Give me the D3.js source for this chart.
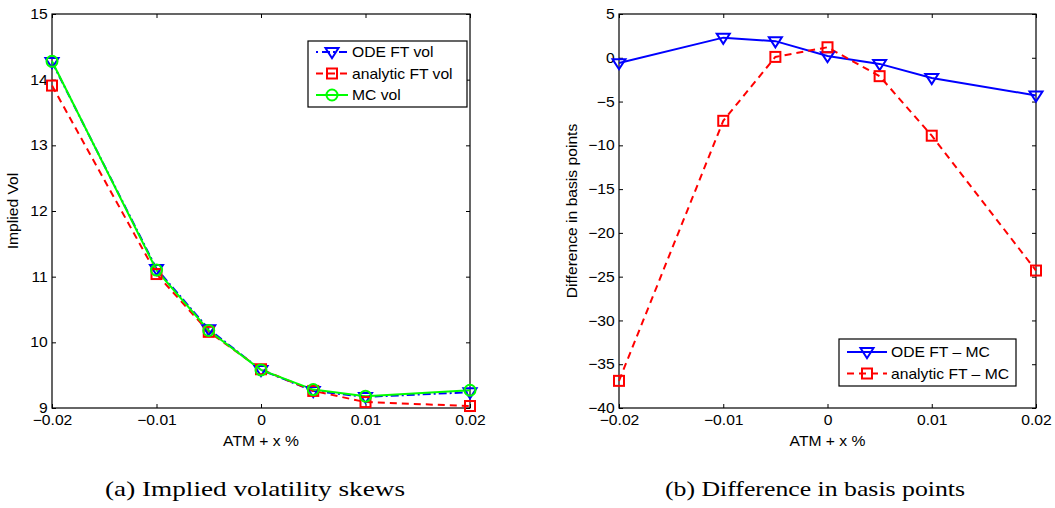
<!DOCTYPE html>
<html><head><meta charset="utf-8">
<script src="https://cdn.jsdelivr.net/npm/d3@7"></script>
<style>body{margin:0;background:#fff}svg{display:block}</style>
</head><body>
<svg id="c" width="1055" height="508"></svg>
<script>
const xVals = [-0.02, -0.01, -0.005, 0, 0.005, 0.01, 0.02];
const odeVol = [14.27, 11.12, 10.20, 9.58, 9.26, 9.17, 9.24];
const analyticVol = [13.91, 11.04, 10.16, 9.59, 9.26, 9.09, 9.03];
const mcVol = [14.28, 11.10, 10.18, 9.58, 9.28, 9.18, 9.27];
const odeDiff = [-0.6, 2.3, 1.9, 0.2, -0.7, -2.3, -4.3];
const analyticDiff = [-36.9, -7.2, 0.1, 1.2, -2.1, -8.9, -24.3];
const xTicks = [-0.02, -0.01, 0, 0.01, 0.02];
const yTicksA = [9, 10, 11, 12, 13, 14, 15];
const yTicksB = [-40, -35, -30, -25, -20, -15, -10, -5, 0, 5];
const legendA = ["ODE FT vol", "analytic FT vol", "MC vol"];
const legendB = ["ODE FT \u2013 MC", "analytic FT \u2013 MC"];
const captions = ["(a) Implied volatility skews", "(b) Difference in basis points"];

const SANS = "Liberation Sans, Arial, sans-serif";
const FS = 14.5, SX = 1.08;
const svg = d3.select("#c");
const fmt = v => (v < 0 ? "\u2212" : "") + String(Math.abs(v));

function htext(g, x, y, str, anchor) {
  return g.append("text").attr("transform", `translate(${x},${y}) scale(${SX},1)`)
    .attr("text-anchor", anchor || "start").style("font-family", SANS)
    .style("font-size", FS + "px").attr("fill", "#000").text(str);
}

function marker(g, type, color, x, y) {
  if (type === "tri") {
    const s = 6.5;
    g.append("path").attr("d", `M${x-s},${y-s*0.6}L${x+s},${y-s*0.6}L${x},${y+s*0.95}Z`)
      .attr("fill", "none").attr("stroke", color).attr("stroke-width", 2);
  } else if (type === "sq") {
    g.append("rect").attr("x", x-5).attr("y", y-5).attr("width", 10).attr("height", 10)
      .attr("fill", "none").attr("stroke", color).attr("stroke-width", 2);
  } else {
    g.append("circle").attr("cx", x).attr("cy", y).attr("r", 5.5)
      .attr("fill", "none").attr("stroke", color).attr("stroke-width", 2);
  }
}

function panel(cfg) {
  const {left, right, top, bottom, yDomain, yTicks, series, ylabel, ylabelX, legend, caption, capX} = cfg;
  const x = d3.scaleLinear().domain([-0.02, 0.02]).range([left, right]);
  const y = d3.scaleLinear().domain(yDomain).range([bottom, top]);
  const g = svg.append("g");
  const ax = g.append("g").attr("transform", `translate(0,${bottom})`)
    .call(d3.axisBottom(x).tickValues(xTicks).tickSize(-4).tickPadding(7).tickFormat(fmt));
  const axT = g.append("g").attr("transform", `translate(0,${top})`)
    .call(d3.axisTop(x).tickValues(xTicks).tickSize(-4).tickFormat(""));
  const ay = g.append("g").attr("transform", `translate(${left},0)`)
    .call(d3.axisLeft(y).tickValues(yTicks).tickSize(-4).tickPadding(4).tickFormat(fmt));
  const ayR = g.append("g").attr("transform", `translate(${right},0)`)
    .call(d3.axisRight(y).tickValues(yTicks).tickSize(-4).tickFormat(""));
  [ax, axT, ay, ayR].forEach(a => {
    a.select(".domain").remove();
    a.selectAll("line").attr("stroke", "#000");
    a.selectAll("text").attr("fill", "#000").style("font-family", SANS)
      .style("font-size", FS + "px").attr("transform", `scale(${SX},1)`);
  });
  g.append("rect").attr("x", left).attr("y", top).attr("width", right-left).attr("height", bottom-top)
    .attr("fill", "none").attr("stroke", "#000").attr("stroke-width", 1.2);
  htext(g, (left+right)/2, bottom+38, "ATM + x %", "middle");
  g.append("text").attr("transform", `translate(${ylabelX},${(top+bottom)/2}) rotate(-90) scale(${SX},1)`)
    .attr("text-anchor", "middle").style("font-family", SANS).style("font-size", FS + "px").text(ylabel);
  series.forEach(s => {
    const line = d3.line().x((d, i) => x(xVals[i])).y(d => y(d));
    g.append("path").datum(s.values).attr("d", line).attr("fill", "none")
      .attr("stroke", s.color).attr("stroke-width", 2).attr("stroke-dasharray", s.dash || null);
  });
  series.forEach(s => {
    s.values.forEach((v, i) => marker(g, s.marker, s.color, x(xVals[i]), y(v)));
  });
  const L = legend;
  g.append("rect").attr("x", L.x).attr("y", L.y).attr("width", L.w).attr("height", L.h)
    .attr("fill", "#fff").attr("stroke", "#000").attr("stroke-width", 1.2);
  L.items.forEach((name, i) => {
    const s = series[i];
    const cy = L.y + L.first + i*L.step;
    g.append("line").attr("x1", L.x+8).attr("x2", L.x+8+L.len).attr("y1", cy).attr("y2", cy)
      .attr("stroke", s.color).attr("stroke-width", 2).attr("stroke-dasharray", s.legDash || s.dash || null);
    marker(g, s.marker, s.color, L.x+8+L.len/2, cy);
    htext(g, L.x+12+L.len, cy+5, name);
  });
  svg.append("text").attr("x", capX).attr("y", 496).attr("text-anchor", "middle")
    .style("font-family", "Liberation Serif, Times New Roman, serif").style("font-size", "21px")
    .attr("textLength", 300).attr("lengthAdjust", "spacingAndGlyphs").attr("fill", "#000").text(caption);
}

panel({
  left: 52, right: 470, top: 14, bottom: 408, yDomain: [9, 15], yTicks: yTicksA,
  ylabel: "Implied Vol", ylabelX: 18,
  series: [
    {values: odeVol, color: "#0000ff", marker: "tri", dash: "8,3,2,3", legDash: "2,4,8,3"},
    {values: analyticVol, color: "#ff0000", marker: "sq", dash: "7,5"},
    {values: mcVol, color: "#00ff00", marker: "circ"}
  ],
  legend: {x: 308, y: 41, w: 159, h: 66, first: 11, step: 21.5, len: 32, items: legendA},
  caption: captions[0], capX: 255
});
panel({
  left: 619, right: 1036, top: 14, bottom: 408, yDomain: [-40, 5], yTicks: yTicksB,
  ylabel: "Difference in basis points", ylabelX: 577,
  series: [
    {values: odeDiff, color: "#0000ff", marker: "tri"},
    {values: analyticDiff, color: "#ff0000", marker: "sq", dash: "7,5"}
  ],
  legend: {x: 839, y: 339, w: 177, h: 47, first: 13, step: 21.5, len: 40, items: legendB},
  caption: captions[1], capX: 815
});
</script>
</body></html>
